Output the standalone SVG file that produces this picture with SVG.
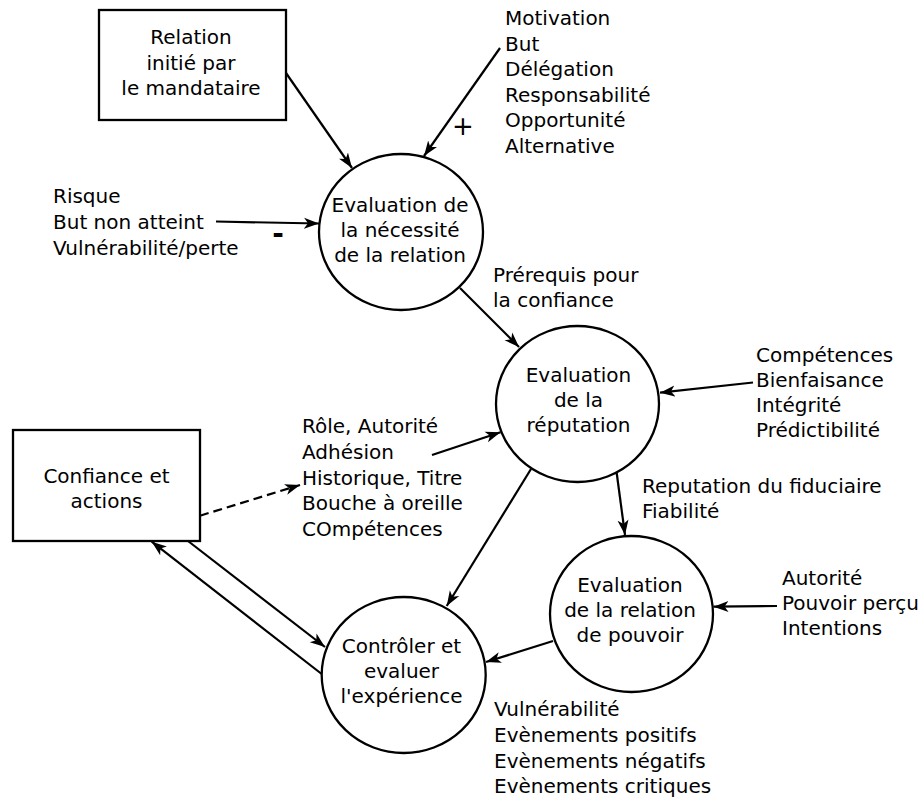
<svg xmlns="http://www.w3.org/2000/svg" width="923" height="798" viewBox="0 0 923 798">
<defs>
<style>
text{font-family:"DejaVu Sans","Liberation Sans",sans-serif;font-size:20px;fill:#000}
.c{text-anchor:middle}
.shape{fill:#fff;stroke:#000;stroke-width:2.3}
.edge{fill:none;stroke:#000;stroke-width:2.2;marker-end:url(#ah)}
.dash{stroke-dasharray:9,5}
</style>
<marker id="ah" markerUnits="userSpaceOnUse" viewBox="0 0 16 12" refX="15" refY="6" markerWidth="16" markerHeight="12" orient="auto">
<path d="M15,6 L0,0.5 L4,6 L0,11.5 Z" fill="#000"/>
</marker>
</defs>
<rect width="923" height="798" fill="#fff"/>

<g id="connectors">
<line class="edge" x1="286" y1="73" x2="352" y2="168"/>
<line class="edge" x1="500" y1="48" x2="424" y2="156"/>
<line class="edge" x1="216" y1="221.5" x2="319" y2="223.5"/>
<line class="edge" x1="460" y1="288" x2="519" y2="347"/>
<line class="edge" x1="753" y1="382.5" x2="660" y2="392.7"/>
<line class="edge" x1="432" y1="455" x2="500.5" y2="432.3"/>
<line class="edge dash" x1="200" y1="515.7" x2="300" y2="485"/>
<line class="edge" x1="616.7" y1="473" x2="625" y2="535"/>
<line class="edge" x1="531" y1="469" x2="446.7" y2="606"/>
<line class="edge" x1="777" y1="606" x2="713.5" y2="606.7"/>
<line class="edge" x1="553" y1="641" x2="486" y2="662"/>
<line class="edge" x1="188" y1="541" x2="325" y2="647"/>
<line class="edge" x1="321.7" y1="674" x2="151.7" y2="541.7"/>
</g>

<g id="relation-box">
<rect class="shape" x="99" y="10" width="187" height="110"/>
<text class="c" x="191" y="44">Relation</text>
<text class="c" x="191" y="69.5">initié par</text>
<text class="c" x="191" y="95">le mandataire</text>
</g>

<g id="labels-plus">
<text x="505" y="25">Motivation</text>
<text x="505" y="50.5">But</text>
<text x="505" y="76">Délégation</text>
<text x="505" y="101.5">Responsabilité</text>
<text x="505" y="127">Opportunité</text>
<text x="505" y="152.5">Alternative</text>
<text class="c" x="463" y="135" style="font-size:26px">+</text>
</g>

<g id="labels-minus">
<text x="53" y="203.3">Risque</text>
<text x="53" y="229">But non atteint</text>
<text x="53" y="254.5">Vulnérabilité/perte</text>
<text class="c" x="278" y="243" style="font-size:28px;font-weight:bold">-</text>
</g>

<g id="node-necessite">
<ellipse class="shape" cx="401" cy="232" rx="82" ry="78"/>
<text class="c" x="400" y="212">Evaluation de</text>
<text class="c" x="400" y="237">la nécessité</text>
<text class="c" x="400" y="262">de la relation</text>
</g>

<g id="label-prerequis">
<text x="493" y="281.7">Prérequis pour</text>
<text x="493" y="306.7">la confiance</text>
</g>

<g id="node-reputation">
<ellipse class="shape" cx="577.5" cy="404" rx="81.5" ry="78"/>
<text class="c" x="578.5" y="381.7">Evaluation</text>
<text class="c" x="578.5" y="406.7">de la</text>
<text class="c" x="578.5" y="431.7">réputation</text>
</g>

<g id="labels-competences">
<text x="756" y="361.7">Compétences</text>
<text x="756" y="386.7">Bienfaisance</text>
<text x="756" y="411.7">Intégrité</text>
<text x="756" y="436.7">Prédictibilité</text>
</g>

<g id="labels-role">
<text x="302" y="433.3">Rôle, Autorité</text>
<text x="302" y="459">Adhésion</text>
<text x="302" y="484.6">Historique, Titre</text>
<text x="302" y="510.2">Bouche à oreille</text>
<text x="302" y="535.8">COmpétences</text>
</g>

<g id="confiance-box">
<rect class="shape" x="13" y="430" width="187" height="111"/>
<text class="c" x="106.5" y="483.3">Confiance et</text>
<text class="c" x="106.5" y="507.7">actions</text>
</g>

<g id="label-fiduciaire">
<text x="642" y="493.3">Reputation du fiduciaire</text>
<text x="642" y="517.7">Fiabilité</text>
</g>

<g id="node-pouvoir">
<ellipse class="shape" cx="631.5" cy="614" rx="81.5" ry="78"/>
<text class="c" x="630" y="591.7">Evaluation</text>
<text class="c" x="630" y="616.7">de la relation</text>
<text class="c" x="630" y="641.7">de pouvoir</text>
</g>

<g id="labels-autorite">
<text x="782" y="585">Autorité</text>
<text x="782" y="610">Pouvoir perçu</text>
<text x="782" y="635">Intentions</text>
</g>

<g id="node-controler">
<ellipse class="shape" cx="403.7" cy="675" rx="82" ry="78"/>
<text class="c" x="401.5" y="652.7">Contrôler et</text>
<text class="c" x="401.5" y="678">evaluer</text>
<text class="c" x="401.5" y="703.3">l'expérience</text>
</g>

<g id="labels-evenements">
<text x="494" y="715.5">Vulnérabilité</text>
<text x="494" y="741.5">Evènements positifs</text>
<text x="494" y="767.5">Evènements négatifs</text>
<text x="494" y="793.3">Evènements critiques</text>
</g>
</svg>
